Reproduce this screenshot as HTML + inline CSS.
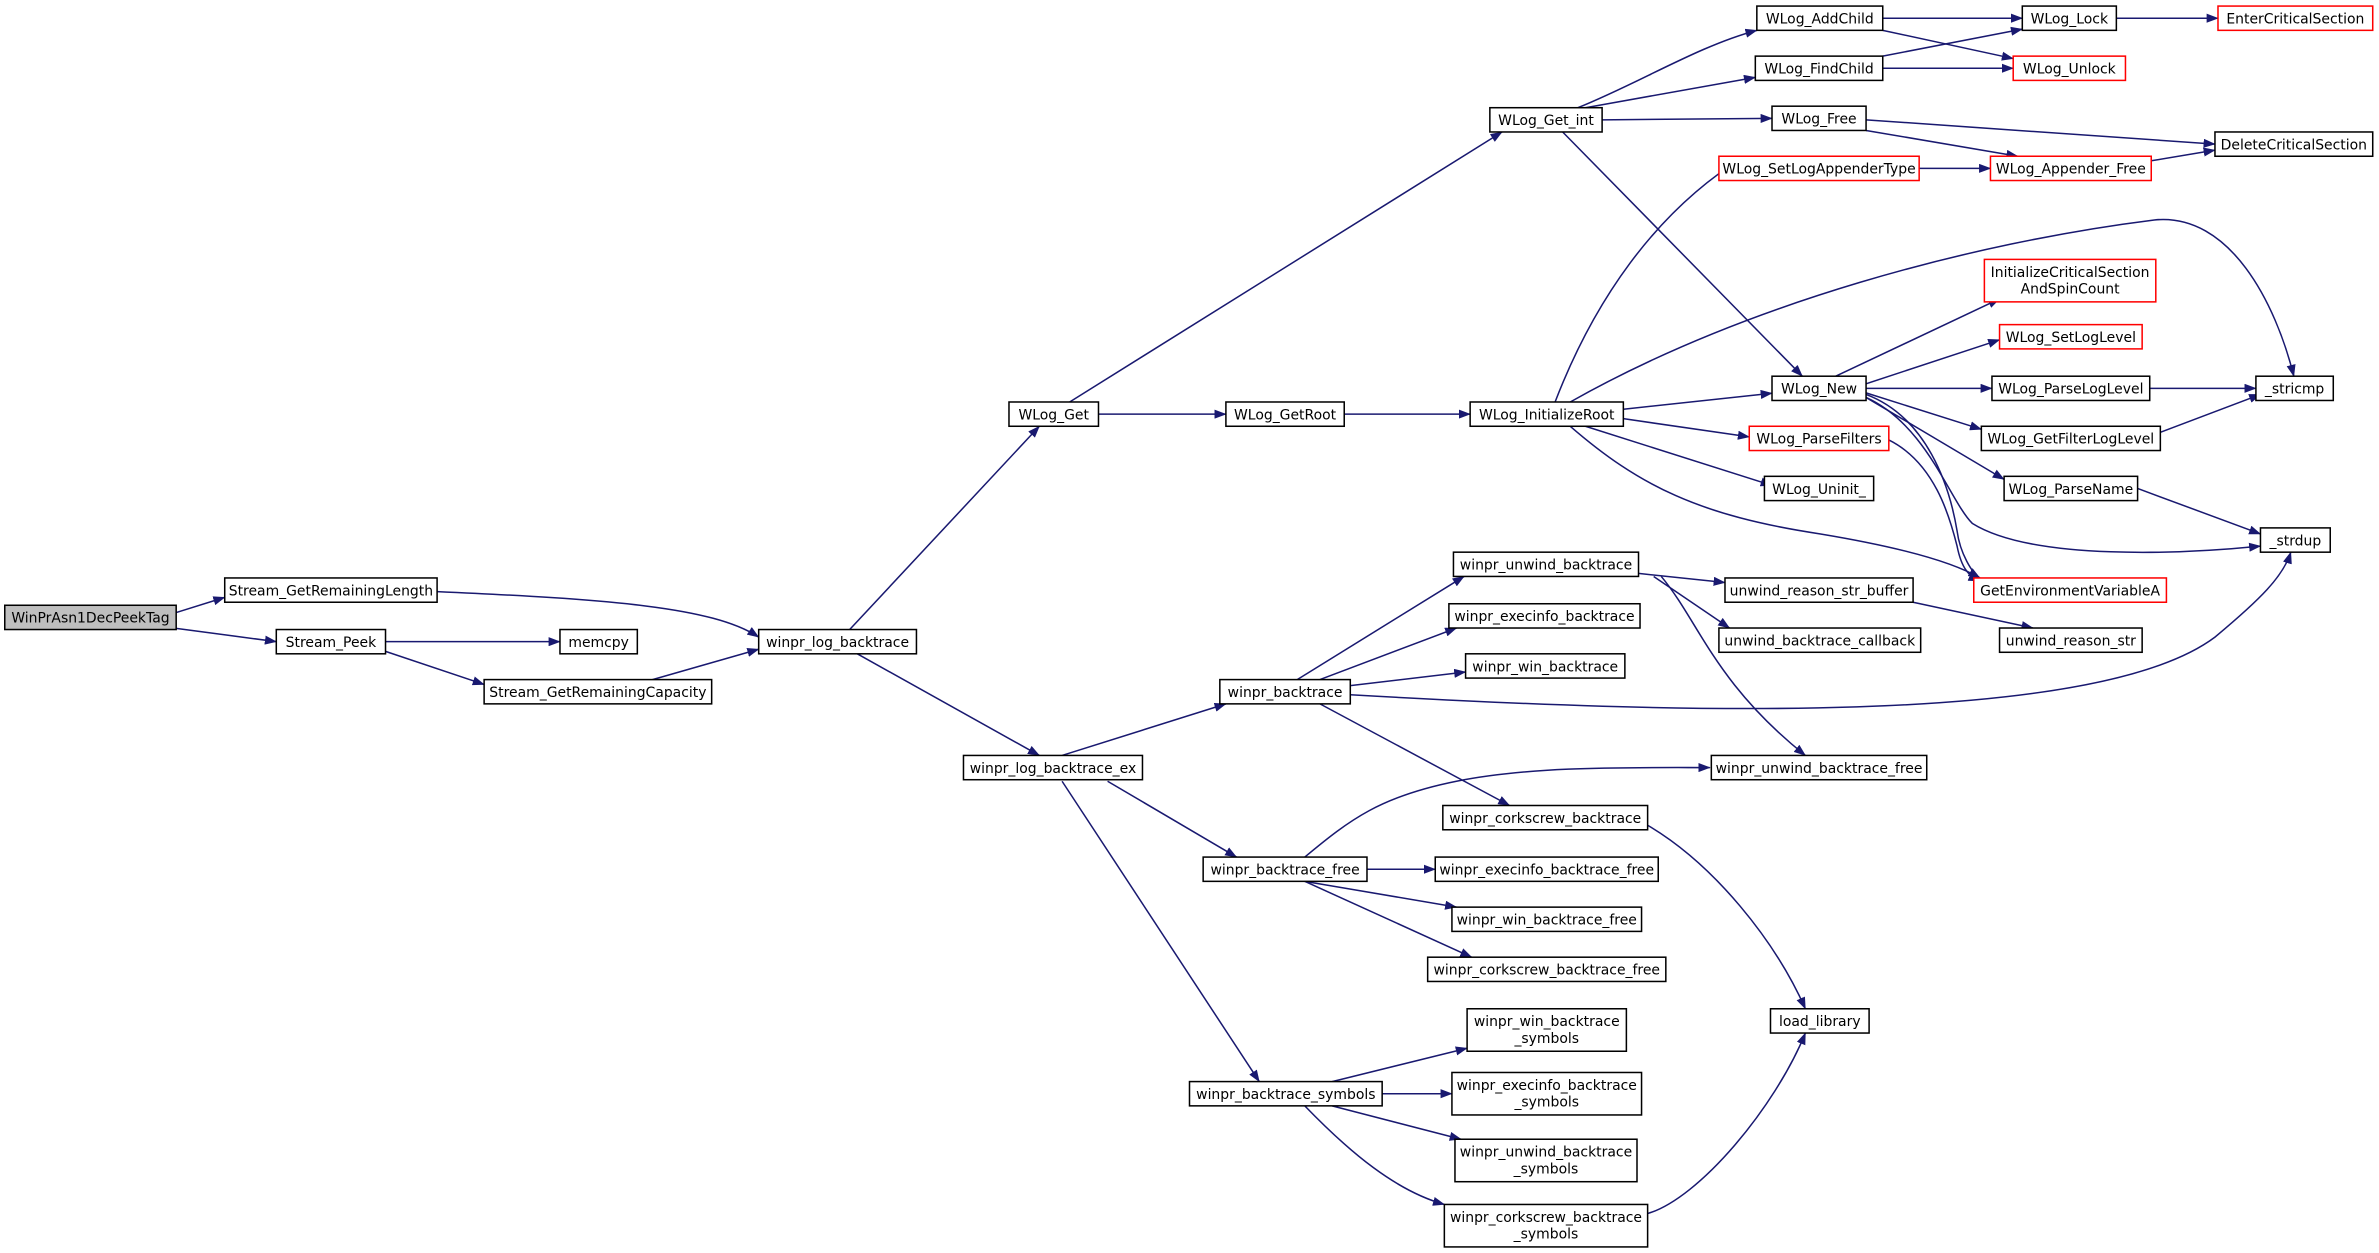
<!DOCTYPE html>
<html><head><meta charset="utf-8"><style>
html,body{margin:0;padding:0;background:#fff;width:2379px;height:1253px;overflow:hidden}
svg text{font-family:"DejaVu Sans","Liberation Sans",sans-serif;font-size:9.2px;fill:#000}
</style></head><body>
<svg id="g" xmlns="http://www.w3.org/2000/svg" width="2379" height="1253" viewBox="0 0 1568 826">
<defs><marker id="a" markerWidth="8" markerHeight="6" refX="7.5" refY="3" orient="auto" markerUnits="userSpaceOnUse"><path d="M0,0 L8,3 L0,6 z" fill="#191970"/></marker></defs>
<g id="e" fill="none" stroke="#191970" stroke-width="1"></g>
<g id="n"></g>
</svg>
<script>
var N={
A:[3,399,113,"WinPrAsn1DecPeekTag","g"],
SGRL:[148,381,140,"Stream_GetRemainingLength"],
SP:[182,415,72,"Stream_Peek"],
MC:[369,415,51,"memcpy"],
SGRC:[319,448,150,"Stream_GetRemainingCapacity"],
WLB:[500,415,104,"winpr_log_backtrace"],
WG:[665,265,59,"WLog_Get"],
WGR:[808,265,78,"WLog_GetRoot"],
WIR:[969,265,101,"WLog_InitializeRoot"],
WGI:[982,71,74,"WLog_Get_int"],
WAC:[1158,4,83,"WLog_AddChild"],
WFC:[1157,37,84,"WLog_FindChild"],
WF:[1168,70,62,"WLog_Free"],
WL:[1333,4,62,"WLog_Lock"],
WU:[1327,37,74,"WLog_Unlock","r"],
ECS:[1462,4,102,"EnterCriticalSection","r"],
DCS:[1460,87,104,"DeleteCriticalSection"],
SLAT:[1133,103,132,"WLog_SetLogAppenderType","r"],
WAF:[1312,103,106,"WLog_Appender_Free","r"],
ICS:[1308,171,113,"InitializeCriticalSection|AndSpinCount","r"],
SLL:[1318,214,94,"WLog_SetLogLevel","r"],
WN:[1168,248,62,"WLog_New"],
PLL:[1313,248,104,"WLog_ParseLogLevel"],
STRI:[1487,248,51,"_stricmp"],
GFL:[1306,281,118,"WLog_GetFilterLogLevel"],
PF:[1153,281,92,"WLog_ParseFilters","r"],
PN:[1321,314,88,"WLog_ParseName"],
UN:[1163,314,72,"WLog_Uninit_"],
STRD:[1490,348,46,"_strdup"],
GEV:[1301,381,127,"GetEnvironmentVariableA","r"],
UB:[958,364,122,"winpr_unwind_backtrace"],
URSB:[1137,381,124,"unwind_reason_str_buffer"],
UBC:[1133,414,133,"unwind_backtrace_callback"],
URS:[1318,414,94,"unwind_reason_str"],
EB:[955,398,126,"winpr_execinfo_backtrace"],
WB:[966,431,105,"winpr_win_backtrace"],
BT:[804,448,86,"winpr_backtrace"],
WLBE:[635,498,118,"winpr_log_backtrace_ex"],
UBF:[1128,498,142,"winpr_unwind_backtrace_free"],
CB:[951,531,135,"winpr_corkscrew_backtrace"],
BF:[793,565,108,"winpr_backtrace_free"],
EBF:[946,565,147,"winpr_execinfo_backtrace_free"],
WBF:[957,598,125,"winpr_win_backtrace_free"],
CBF:[941,631,157,"winpr_corkscrew_backtrace_free"],
LL:[1167,665,65,"load_library"],
WBS:[967,665,105,"winpr_win_backtrace|_symbols"],
BS:[784,713,127,"winpr_backtrace_symbols"],
EBS:[957,707,125,"winpr_execinfo_backtrace|_symbols"],
UBS:[959,751,120,"winpr_unwind_backtrace|_symbols"],
CBS:[952,794,134,"winpr_corkscrew_backtrace|_symbols"]
};
function H(k){return N[k][3].indexOf("|")>=0?28:16}
function L(x1,y1,x2,y2){return '<path d="M'+x1+','+y1+' L'+x2+','+y2+'" marker-end="url(#a)"/>';}
function P(d){return '<path d="'+d+'" marker-end="url(#a)"/>';}
var s="",eg="";
// straight edges: [src, srcYoff, dst, dstYoff]
function R(k,f){var n=N[k],h=H(k);return [n[0]+n[2],n[1]+h*(f==null?0.5:f)];}
function Lf(k,f){var n=N[k],h=H(k);return [n[0],n[1]+h*(f==null?0.5:f)];}
function S(a,fa,b,fb){var p=R(a,fa),q=Lf(b,fb);eg+=L(p[0],p[1],q[0],q[1]);}
S("A",0.3,"SGRL",0.8);S("A",0.95,"SP",0.5);
eg+=P("M288,390 C400,395 470,400 500,420");
S("SP",0.5,"MC",0.5);S("SP",0.9,"SGRC",0.2);
eg+=L(430,448,500,428);
eg+=L(560,415,685,281);
eg+=L(565,431,685,498);
eg+=L(705,265,990,87);
S("WG",0.5,"WGR",0.5);S("WGR",0.5,"WIR",0.5);
eg+=P("M1040,71 C1080,55 1120,30 1158,20");
eg+=L(1045,71,1157,51);
S("WGI",0.5,"WF",0.5);
eg+=L(1030,87,1188,248);
S("WAC",0.5,"WL",0.5);S("WAC",1,"WU",0.1);S("WFC",0,"WL",0.95);S("WFC",0.5,"WU",0.5);
S("WL",0.5,"ECS",0.5);
eg+=L(1230,79,1460,95);eg+=L(1230,86,1330,103);
S("SLAT",0.5,"WAF",0.5);eg+=L(1418,106,1460,99);
eg+=P("M1025,265 C1050,200 1090,140 1150,103");
eg+=P("M1035,265 C1150,200 1300,160 1420,145 C1470,140 1500,200 1512,248");
S("WIR",0.3,"WN",0.7);
eg+=L(1070,276,1153,288);
eg+=L(1045,281,1168,320);
eg+=P("M1035,281 C1080,320 1120,340 1200,352 C1260,362 1290,372 1305,381");
eg+=L(1210,248,1318,197);
eg+=L(1230,253,1318,224);
S("WN",0.5,"PLL",0.5);
eg+=L(1230,259,1306,283);
eg+=L(1230,262,1321,316);
eg+=P("M1230,262 C1270,280 1285,330 1300,345 C1340,370 1440,365 1490,360");
eg+=P("M1230,260 C1270,275 1285,320 1290,350 C1292,365 1300,378 1305,381");
eg+=L(1417,256,1487,256);eg+=L(1424,285,1490,260);eg+=L(1409,322,1490,352);
eg+=P("M1245,290 C1275,305 1285,340 1290,360 C1293,375 1298,380 1305,383");
eg+=L(700,498,808,464);
eg+=L(730,515,815,565);
eg+=L(700,515,830,713);
eg+=L(855,448,965,380);eg+=L(870,448,960,414);eg+=L(890,452,966,443);
eg+=P("M890,458 C1100,470 1380,480 1460,420 C1490,395 1505,380 1510,364");
eg+=L(870,464,995,531);
eg+=L(1080,378,1137,384);eg+=L(1090,380,1140,414);
eg+=P("M1095,380 C1120,410 1130,450 1190,498");
eg+=L(1261,397,1340,414);
eg+=P("M1086,544 C1130,570 1170,620 1190,665");
eg+=P("M860,565 C890,540 910,525 960,515 C1010,505 1070,506 1127,506");
S("BF",0.5,"EBF",0.5);eg+=L(860,581,960,598);eg+=L(860,581,970,631);
eg+=L(878,713,967,691);S("BS",0.5,"EBS",0.5);eg+=L(878,729,963,751);
eg+=P("M860,729 C890,760 920,785 952,794");
eg+=P("M1086,800 C1120,790 1170,730 1190,681");
for(var k in N){var n=N[k],h=H(k);var col=n[4]=="r"?"#ff0000":"#000";var fill=n[4]=="g"?"#bfbfbf":"#fff";
 s+='<rect x="'+n[0]+'" y="'+n[1]+'" width="'+n[2]+'" height="'+h+'" fill="'+fill+'" stroke="'+col+'" stroke-width="1"/>';
 var t=n[3].split("|"),cx=n[0]+n[2]/2;
 if(t.length==1)s+='<text x="'+cx+'" y="'+(n[1]+11.5)+'" text-anchor="middle">'+t[0]+'</text>';
 else{s+='<text x="'+cx+'" y="'+(n[1]+11.5)+'" text-anchor="middle">'+t[0]+'</text><text x="'+cx+'" y="'+(n[1]+22.5)+'" text-anchor="middle">'+t[1]+'</text>';}}
document.getElementById("e").innerHTML=eg;document.getElementById("n").innerHTML=s;
</script>
</body></html>
